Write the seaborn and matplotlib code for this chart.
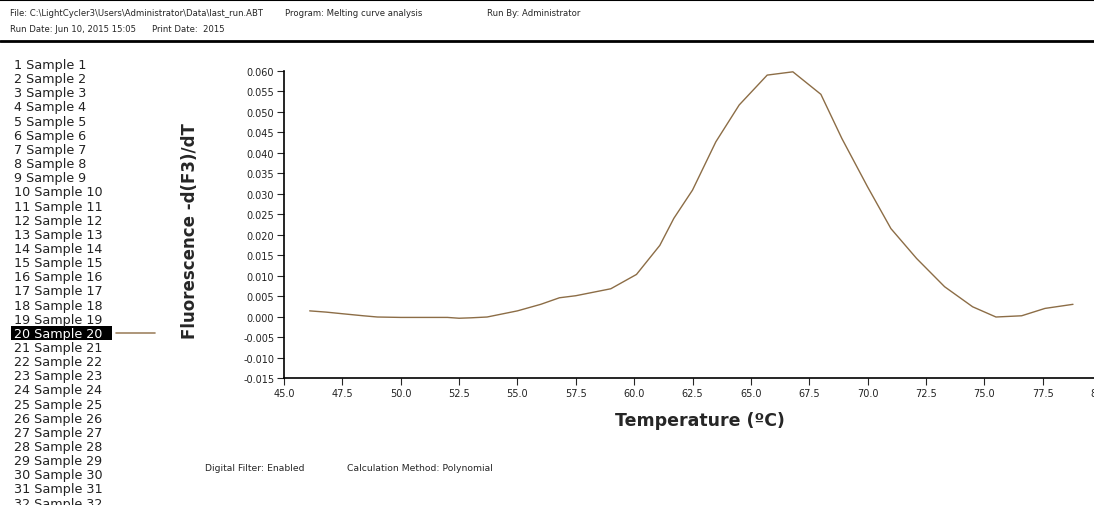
import pandas as pd
import matplotlib
matplotlib.use("Agg")
import matplotlib.pyplot as plt
import seaborn as sns

# melting curve, sample 20
temps = [46.1, 46.8, 47.5, 48.4, 49.0, 50.0, 51.0, 52.0, 52.5, 53.0, 53.7, 55.0,
         56.0, 56.8, 57.5, 59.0, 60.1, 61.1, 61.7, 62.5, 63.5, 64.5, 65.7, 66.8,
         68.0, 68.9, 70.0, 71.0, 72.1, 73.3, 74.5, 75.5, 76.6, 77.6, 78.8]
values = [0.0014, 0.0011, 0.0007, 0.0002, -0.0001, -0.0002, -0.0002, -0.0002, -0.0004, -0.0003, -0.0001, 0.0014,
          0.0030, 0.0046, 0.0051, 0.0068, 0.0103, 0.0174, 0.0240, 0.0309, 0.0427, 0.0517, 0.0590, 0.0598,
          0.0543, 0.0435, 0.0317, 0.0215, 0.0142, 0.0073, 0.0024, -0.0001, 0.0002, 0.0020, 0.0030]
samples = [f"{i} Sample {i}" for i in range(1, 33)]
selected = 20
x_ticks = [45.0, 47.5, 50.0, 52.5, 55.0, 57.5, 60.0, 62.5, 65.0, 67.5, 70.0, 72.5, 75.0, 77.5, 80.0]
y_ticks = [-0.015, -0.010, -0.005, 0.000, 0.005, 0.010, 0.015, 0.020, 0.025, 0.030,
           0.035, 0.040, 0.045, 0.050, 0.055, 0.060]

sns.set_style("white")
plt.rcParams['font.family'] = ['DejaVu Sans']

line_color = "#8C6D46"
df = pd.DataFrame({"temp": temps, "value": values})

fig = plt.figure(figsize=(10.94, 5.06), dpi=100)
W, H = 1094, 506

# header
hdr = dict(fontsize=6.1, va="center")
fig.text(10 / W, 1 - 14 / H, "File: C:\\LightCycler3\\Users\\Administrator\\Data\\last_run.ABT", **hdr)
fig.text(285 / W, 1 - 14 / H, "Program: Melting curve analysis", **hdr)
fig.text(487 / W, 1 - 14 / H, "Run By: Administrator", **hdr)
fig.text(10 / W, 1 - 30 / H, "Run Date: Jun 10, 2015 15:05", **hdr)
fig.text(152 / W, 1 - 30 / H, "Print Date:  2015", **hdr)
fig.add_artist(plt.Line2D([0, 1], [1 - 1 / H, 1 - 1 / H], color="black", lw=1.5))
fig.add_artist(plt.Line2D([0, 1], [1 - 42 / H, 1 - 42 / H], color="black", lw=2))

# sample list
for i, s in enumerate(samples):
    y = 1 - (65.5 + i * 14.15) / H
    if i + 1 == selected:
        fig.add_artist(plt.Rectangle((11 / W, y - 7 / H), 101 / W, 14 / H,
                                     facecolor="black", edgecolor="none"))
        fig.text(14 / W, y, s, fontsize=9.2, va="center", color="white")
        fig.add_artist(plt.Line2D([116 / W, 155 / W], [y, y], color="#A08462", lw=1.2))
    else:
        fig.text(14 / W, y, s, fontsize=9.2, va="center", color="#222222")

# footer
ftr = dict(fontsize=6.7, va="center")
fig.text(205 / W, 1 - 469 / H, "Digital Filter: Enabled", **ftr)
fig.text(347 / W, 1 - 469 / H, "Calculation Method: Polynomial", **ftr)

ax = fig.add_axes([284 / W, 127 / H, 817 / W, 307 / H])
sns.lineplot(data=df, x="temp", y="value", color=line_color, lw=1, ax=ax)
ax.set_xlim(45, 80)
ax.set_ylim(-0.015, 0.060)
ax.set_xticks(x_ticks)
ax.set_xticklabels([f"{t:.1f}" for t in x_ticks])
ax.set_yticks(y_ticks)
ax.set_yticklabels([f"{t:.3f}" for t in y_ticks])
ax.tick_params(axis="both", labelsize=7, length=5, width=0.8, direction="out",
               bottom=True, left=True, pad=2, labelcolor="#222222")
for side in ["top", "right"]:
    ax.spines[side].set_visible(False)
for side in ["left", "bottom"]:
    ax.spines[side].set_color("black")
    ax.spines[side].set_linewidth(1.2)
ax.set_xlabel("Temperature (ºC)", fontsize=12.5, fontweight="bold")
ax.set_ylabel("Fluorescence -d(F3)/dT", fontsize=12, fontweight="bold")
ax.xaxis.set_label_coords((700 - 284) / 817, -(421 - 379) / 307)
ax.yaxis.set_label_coords(-(284 - 190) / 817, (379 - 231) / 307)
ax.xaxis.label.set_va("center")
ax.yaxis.label.set_va("center")
ax.grid(False)

fig.savefig("out.png", dpi=100)
